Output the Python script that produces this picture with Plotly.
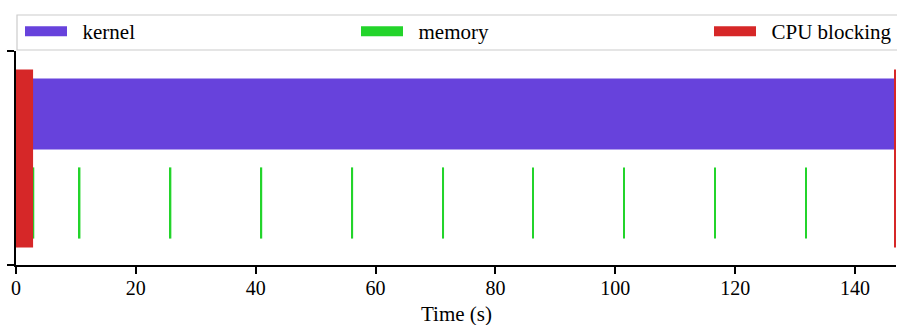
import plotly.graph_objects as go

# ---- data ----
kernel_starts = [2.83]
kernel_ends = [146.75]
memory_times = [0.5, 2.8, 10.5, 25.67, 40.83, 56.0, 71.17, 86.17, 101.33, 116.5, 131.67, 146.65]
memory_dur = 0.25
cpu_starts = [0.1, 0.32, 146.6]
cpu_ends = [0.22, 2.85, 146.75]
x_ticks = [0, 20, 40, 60, 80, 100, 120, 140]
legend_names = ["kernel", "memory", "CPU blocking"]
x_title = "Time (s)"

KERNEL_C = "#6742dc"
MEM_C = "#23d42b"
CPU_C = "#d62728"
FONT = "Liberation Serif, Times New Roman, Times, serif"

W, H = 897, 325
ML, MR, MT, MB = 16, 0, 51, 60
X_MAX = 146.83
Y_LO, Y_HI = -0.697, 1.708

fig = go.Figure()
fig.add_trace(go.Bar(orientation="h", y=[1] * len(kernel_starts),
                     base=kernel_starts,
                     x=[e - s for s, e in zip(kernel_starts, kernel_ends)],
                     width=0.8, marker=dict(color=KERNEL_C, line_width=0),
                     showlegend=False, name=legend_names[0]))
fig.add_trace(go.Bar(orientation="h", y=[0] * len(memory_times),
                     base=memory_times, x=[memory_dur] * len(memory_times),
                     width=0.8, marker=dict(color=MEM_C, line_width=0),
                     showlegend=False, name=legend_names[1]))
fig.add_trace(go.Bar(orientation="h", y=[0.5] * len(cpu_starts),
                     base=cpu_starts,
                     x=[e - s for s, e in zip(cpu_starts, cpu_ends)],
                     width=2.0, marker=dict(color=CPU_C, line_width=0),
                     showlegend=False, name=legend_names[2]))

# legend entries
NB = "\u00a0\u00a0"
for name, col, lg in zip(legend_names, [KERNEL_C, MEM_C, CPU_C],
                         ["legend", "legend2", "legend3"]):
    fig.add_trace(go.Scatter(x=[None], y=[None], mode="lines", name=NB + name,
                             line=dict(color=col, width=10), legend=lg))

pw = W - ML - MR
ph = H - MT - MB
def px2paper(px):
    return (px - ML) / pw
def py2paper(py):
    return 1 + (MT - py) / ph

leg_common = dict(orientation="h", yanchor="middle", xanchor="left",
                  font=dict(family=FONT, size=21, color="#000"),
                  bgcolor="rgba(0,0,0,0)", borderwidth=0, itemwidth=42)
fig.update_layout(
    legend=dict(x=px2paper(20), y=py2paper(31.5), **leg_common),
    legend2=dict(x=px2paper(356), y=py2paper(31.5), **leg_common),
    legend3=dict(x=px2paper(710), y=py2paper(31.5), **leg_common),
)

# legend frame
fig.add_shape(type="path", xref="paper", yref="paper",
              path="M {a},{b} L {c},{b} L {c},{d} L {a},{d} Z".format(
                  a=px2paper(17), c=px2paper(905), b=py2paper(15), d=py2paper(50)),
              line=dict(color="#cccccc", width=1.2), fillcolor="rgba(255,255,255,0.8)",
              layer="below")

# x-axis title
fig.add_annotation(text=x_title, xref="paper", yref="paper",
                   x=px2paper(457.5), y=py2paper(314), xanchor="center", yanchor="middle",
                   showarrow=False, font=dict(family=FONT, size=21, color="#000"))

fig.update_layout(
    width=W, height=H,
    margin=dict(l=ML, r=MR, t=MT, b=MB),
    paper_bgcolor="white", plot_bgcolor="white",
    barmode="overlay",
    font=dict(family=FONT, color="#000"),
    xaxis=dict(range=[0, X_MAX], tickvals=x_ticks, ticks="outside", ticklen=7,
               tickwidth=1.5, tickcolor="#000", showline=True, linecolor="#000",
               linewidth=1.6, showgrid=False, zeroline=False,
               tickfont=dict(family="Times New Roman, Liberation Serif, serif", size=20),
               ticklabelstandoff=-3),
    yaxis=dict(range=[Y_LO, Y_HI], tickvals=[Y_LO, Y_HI], ticktext=["", ""],
               ticks="outside", ticklen=7, tickwidth=1.5, tickcolor="#000",
               showline=True, linecolor="#000", linewidth=1.6, showgrid=False,
               zeroline=False, fixedrange=True),
)

fig.write_html("out.html", config={"displayModeBar": False},
               post_script="document.body.style.margin='0';")
